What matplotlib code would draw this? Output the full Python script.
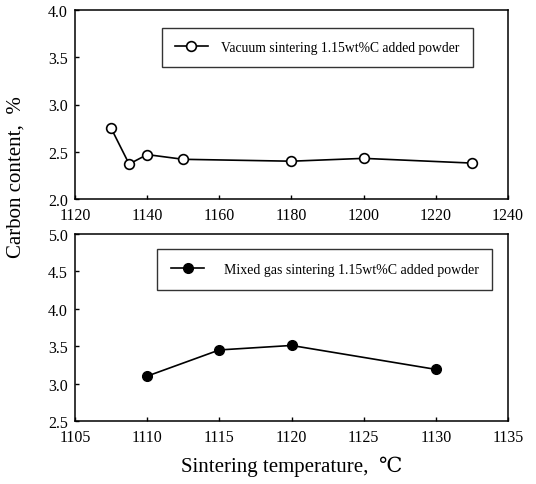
import matplotlib.pyplot as plt

plt.rcParams['font.family'] = ['Liberation Serif', 'DejaVu Serif']

vac_temp = [1130, 1135, 1140, 1150, 1180, 1200, 1230]
vac_carbon = [2.75, 2.37, 2.47, 2.42, 2.40, 2.43, 2.38]

gas_temp = [1110, 1115, 1120, 1130]
gas_carbon = [3.10, 3.45, 3.51, 3.19]

W, H = 536, 485
fig = plt.figure(figsize=(W / 100, H / 100), dpi=100)

def px(l, t, r, b):
    return [l / W, 1 - b / H, (r - l) / W, (b - t) / H]

ax1 = fig.add_axes(px(75, 11, 508, 200))
ax2 = fig.add_axes(px(75, 235, 508, 422))

ax1.plot(vac_temp, vac_carbon, color='black', lw=1.2, marker='o', ms=7,
         mfc='white', mec='black', mew=1.2,
         label='Vacuum sintering 1.15wt%C added powder')
ax1.set_xlim(1120, 1240)
ax1.set_ylim(2.0, 4.0)
ax1.set_xticks(range(1120, 1241, 20))
ax1.set_yticks([2.0, 2.5, 3.0, 3.5, 4.0])
ax1.set_yticklabels(['2.0', '2.5', '3.0', '3.5', '4.0'])

ax2.plot(gas_temp, gas_carbon, color='black', lw=1.2, marker='o', ms=7,
         mfc='black', mec='black',
         label='Mixed gas sintering 1.15wt%C added powder')
ax2.set_xlim(1105, 1135)
ax2.set_ylim(2.5, 5.0)
ax2.set_xticks(range(1105, 1136, 5))
ax2.set_yticks([2.5, 3.0, 3.5, 4.0, 4.5, 5.0])
ax2.set_yticklabels(['2.5', '3.0', '3.5', '4.0', '4.5', '5.0'])

for ax in (ax1, ax2):
    ax.tick_params(direction='in', length=3, labelsize=11.5, width=1)
    ax.tick_params(axis='x', pad=6)
    ax.tick_params(axis='y', pad=5)
    for s in ax.spines.values():
        s.set_linewidth(1.1)

leg1 = ax1.legend(loc='upper left', bbox_to_anchor=((162 - 75) / 433, 1 - (29 - 11) / 189),
                  fontsize=9.8, frameon=True, fancybox=False, edgecolor='black',
                  handlelength=2.4, borderpad=0.95, handletextpad=1.0,
                  borderaxespad=0)
leg1.get_frame().set_linewidth(1.0)
leg2 = ax2.legend(loc='upper left', bbox_to_anchor=((157 - 75) / 433, 1 - (250 - 235) / 187),
                  fontsize=10, frameon=True, fancybox=False, edgecolor='black',
                  handlelength=2.4, borderpad=1.0, handletextpad=1.4,
                  borderaxespad=0)
leg2.get_frame().set_linewidth(1.0)

fig.text(16 / W, 1 - 177 / H, 'Carbon content,  %', rotation=90, fontsize=15,
         ha='center', va='center')
fig.text(292 / W, 1 - 467 / H, 'Sintering temperature,  ℃', fontsize=15,
         ha='center', va='center')

fig.savefig('out.png', dpi=100)
